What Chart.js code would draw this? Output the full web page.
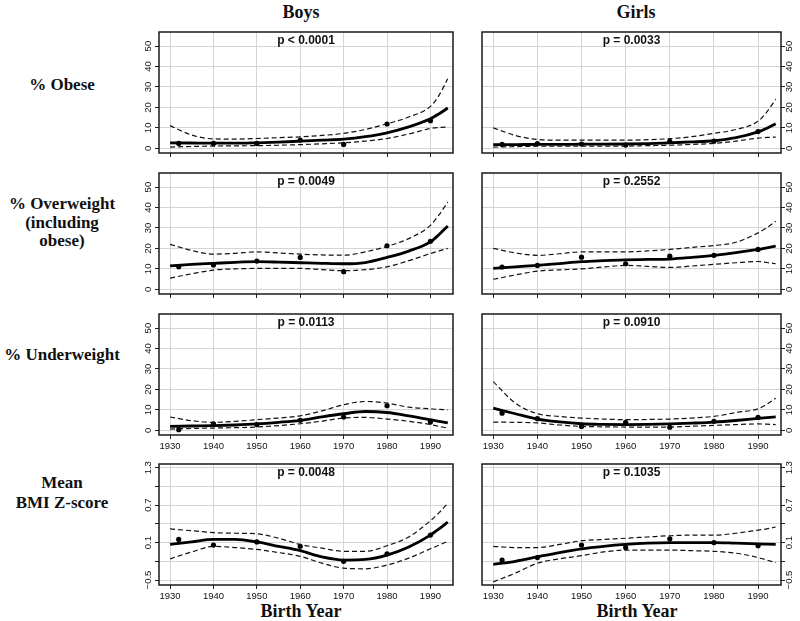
<!DOCTYPE html>
<html>
<head>
<meta charset="utf-8">
<script src="https://cdn.jsdelivr.net/npm/chart.js@4.4.1/dist/chart.umd.min.js"></script>
<style>
  body { margin: 0; background: #fff; }
  #wrap { position: relative; width: 800px; height: 621px; overflow: hidden; }
  canvas { position: absolute; }
  .lbl { position: absolute; transform: translate(-50%, -50%); white-space: nowrap;
         font-family: "Liberation Serif", "DejaVu Serif", serif; font-weight: bold; color: #111; text-align: center; }
</style>
</head>
<body>
<div id="wrap">
  <div class="lbl" style="left:301px;top:12px;font-size:18px">Boys</div>
  <div class="lbl" style="left:636px;top:12px;font-size:18px">Girls</div>
  <div class="lbl" style="left:62px;top:85px;font-size:17px">% Obese</div>
  <div class="lbl" style="left:62px;top:223px;font-size:17px;line-height:18.5px">% Overweight<br>(including<br>obese)</div>
  <div class="lbl" style="left:62px;top:355px;font-size:17px">% Underweight</div>
  <div class="lbl" style="left:62px;top:493px;font-size:17px;line-height:20px">Mean<br>BMI Z-score</div>
  <div class="lbl" style="left:301px;top:611px;font-size:18px">Birth Year</div>
  <div class="lbl" style="left:637px;top:611px;font-size:18px">Birth Year</div>
</div>
<script>
// observed years and smoothed-curve sample years
const pointYears = [1932, 1940, 1950, 1960, 1970, 1980, 1990]
const fitYears = [1930, 1935, 1940, 1945, 1950, 1955, 1960, 1965, 1970, 1975, 1980, 1985, 1990, 1992, 1994]
const yearTicks = [1930, 1940, 1950, 1960, 1970, 1980, 1990]
const pctTicks = [0, 10, 20, 30, 40, 50]
const zGrid = [-0.5, -0.2, 0.1, 0.4, 0.7, 1.0, 1.3]
const zLabels = [-0.5, 0.1, 0.7, 1.3]

// % obese
const boysObesePts = [2.4, 2.4, 2.4, 4.0, 1.9, 11.9, 13.5]
const boysObeseFit = [2.7, 2.6, 2.5, 2.5, 2.7, 3.0, 3.5, 4.0, 4.5, 5.7, 7.6, 10.5, 14.5, 16.9, 19.7]
const boysObeseUpper = [11.1, 6.5, 4.6, 4.5, 4.8, 5.2, 5.6, 6.3, 7.3, 9.2, 12, 15.3, 20.5, 26, 34]
const boysObeseLower = [0.6, 0.9, 1.1, 1.2, 1.3, 1.5, 1.8, 2.2, 2.7, 3.5, 4.8, 7.0, 9.7, 10.2, 10.5]
const girlsObesePts = [1.9, 2.3, 2.1, 1.6, 3.4, 3.5, 8.2]
const girlsObeseFit = [1.8, 1.8, 1.9, 1.9, 2.0, 2.0, 2.1, 2.3, 2.7, 3.1, 3.7, 5.2, 8.0, 9.8, 12]
const girlsObeseUpper = [10, 6.3, 4.3, 4.0, 4.0, 4.0, 4.0, 4.2, 4.7, 5.7, 7.3, 9.2, 13.2, 17.8, 24]
const girlsObeseLower = [0.6, 0.8, 1.0, 1.0, 1.1, 1.1, 1.1, 1.3, 1.5, 1.9, 2.4, 3.5, 5.0, 5.3, 5.5]

// % overweight
const boysOverPts = [11, 11.9, 13.8, 15.6, 8.6, 21.3, 23.5]
const boysOverFit = [11.5, 12.2, 12.7, 13.2, 13.5, 13.3, 13.0, 12.7, 12.5, 13.1, 15.6, 18.7, 23.2, 26.8, 31]
const boysOverUpper = [22, 19, 17.2, 17.6, 18.3, 17.8, 17.2, 16.8, 16.7, 18.3, 21, 24.8, 31.3, 36.5, 42.7]
const boysOverLower = [5.5, 7.6, 9.4, 10.0, 10.2, 10.2, 10.2, 9.6, 9.1, 9.6, 11, 14, 17.5, 18.8, 20]
const girlsOverPts = [10.9, 11.7, 15.7, 12.5, 16.2, 16.6, 19.5]
const girlsOverFit = [10.2, 11.0, 11.7, 12.6, 13.5, 14.0, 14.4, 14.6, 14.8, 15.6, 16.6, 17.9, 19.5, 20.3, 21.1]
const girlsOverUpper = [20, 17.8, 16.6, 17.4, 18.3, 18.3, 18.3, 18.8, 19.5, 20.5, 21.4, 23, 27.6, 30.2, 33.3]
const girlsOverLower = [4.9, 7.0, 8.9, 9.5, 10.0, 10.9, 11.7, 11.2, 10.7, 11.4, 12.2, 13.0, 13.6, 13.1, 12.5]

// % underweight
const boysUnderPts = [0.3, 3.1, 2.8, 4.9, 6.5, 12, 4]
const boysUnderFit = [1.9, 2.1, 2.3, 2.6, 3.1, 3.9, 4.9, 6.6, 8.1, 9.2, 8.7, 7.1, 5.2, 4.4, 3.6]
const boysUnderUpper = [6.5, 4.7, 3.9, 4.4, 5.2, 6.0, 7.1, 9.5, 12.5, 14.1, 13.3, 11.3, 10.5, 10.2, 10]
const boysUnderLower = [0.6, 0.9, 1.1, 1.3, 1.6, 2.3, 3.2, 4.5, 6.0, 6.3, 5.5, 4.4, 2.8, 1.9, 1.1]
const girlsUnderPts = [8.4, 5.7, 1.9, 3.9, 1.5, 4.4, 6.3]
const girlsUnderFit = [10.8, 8.1, 5.5, 4.1, 3.2, 2.9, 2.8, 2.9, 3.1, 3.5, 4.0, 4.8, 5.8, 6.2, 6.6]
const girlsUnderUpper = [23.8, 13.3, 8.1, 6.8, 6.0, 5.5, 5.2, 5.3, 5.5, 6.0, 6.8, 8.7, 10.5, 12.8, 15.7]
const girlsUnderLower = [4.0, 3.9, 3.6, 2.6, 1.9, 1.7, 1.6, 1.6, 1.6, 2.0, 2.4, 2.8, 3.1, 3.0, 2.8]

// mean BMI z-score
const boysZPts = [0.15, 0.06, 0.11, 0.04, -0.2, -0.08, 0.22]
const boysZFit = [0.07, 0.11, 0.15, 0.15, 0.11, 0.04, -0.03, -0.13, -0.18, -0.17, -0.10, 0.03, 0.22, 0.32, 0.43]
const boysZUpper = [0.32, 0.29, 0.26, 0.25, 0.24, 0.17, 0.07, 0.01, -0.04, -0.04, 0.05, 0.19, 0.45, 0.58, 0.73]
const boysZLower = [-0.16, -0.05, 0.04, 0.02, -0.01, -0.06, -0.12, -0.23, -0.31, -0.32, -0.26, -0.15, 0.0, 0.06, 0.12]
const girlsZPts = [-0.18, -0.14, 0.06, 0.02, 0.16, 0.1, 0.05]
const girlsZFit = [-0.25, -0.2, -0.13, -0.06, 0.0, 0.04, 0.07, 0.09, 0.1, 0.1, 0.1, 0.09, 0.08, 0.075, 0.07]
const girlsZUpper = [0.04, 0.02, 0.02, 0.07, 0.13, 0.15, 0.17, 0.19, 0.21, 0.22, 0.22, 0.25, 0.3, 0.32, 0.35]
const girlsZLower = [-0.53, -0.39, -0.23, -0.16, -0.11, -0.05, -0.02, -0.02, -0.02, -0.03, -0.04, -0.07, -0.14, -0.18, -0.22]

const pValues = ['p < 0.0001', 'p = 0.0033', 'p = 0.0049', 'p = 0.2552',
                 'p = 0.0113', 'p = 0.0910', 'p = 0.0048', 'p = 0.1035']

const rowTops = [31, 172, 313, 463]
const boxH = 122
const cols = [{ left: 159, width: 294, side: 'left' }, { left: 482, width: 299, side: 'right' }]

const panels = [
  [boysObesePts, boysObeseFit, boysObeseUpper, boysObeseLower],
  [girlsObesePts, girlsObeseFit, girlsObeseUpper, girlsObeseLower],
  [boysOverPts, boysOverFit, boysOverUpper, boysOverLower],
  [girlsOverPts, girlsOverFit, girlsOverUpper, girlsOverLower],
  [boysUnderPts, boysUnderFit, boysUnderUpper, boysUnderLower],
  [girlsUnderPts, girlsUnderFit, girlsUnderUpper, girlsUnderLower],
  [boysZPts, boysZFit, boysZUpper, boysZLower],
  [girlsZPts, girlsZFit, girlsZUpper, girlsZLower],
]

const SANS = '"Liberation Sans", Arial, Helvetica, sans-serif'
const PAD = 30, PADB = 22, PADT = 3, PADS = 4

const xy = (xs, ys) => xs.map((x, i) => ({ x, y: ys[i] }))

const panelPlugin = {
  id: 'panelDecor',
  afterDraw(chart, args, opts) {
    const { ctx, chartArea: a, scales } = chart
    ctx.save()
    // box
    ctx.strokeStyle = '#1a1a1a'
    ctx.lineWidth = 1.5
    ctx.strokeRect(a.left, a.top, a.right - a.left, a.bottom - a.top)
    // p value
    ctx.fillStyle = '#111'
    ctx.font = 'bold 12px ' + SANS
    ctx.textAlign = 'center'
    ctx.textBaseline = 'middle'
    ctx.fillText(opts.p, (a.left + a.right) / 2, a.top + 9)
    // y labels, rotated like R's default
    ctx.font = '9.5px ' + SANS
    const lx = opts.side === 'left' ? a.left - 11 : a.right + 8
    opts.yLabels.forEach(v => {
      const py = scales.y.getPixelForValue(v)
      ctx.save()
      ctx.translate(lx, py)
      ctx.rotate(-Math.PI / 2)
      ctx.fillText(opts.z ? String(v).replace('-', '\u2212') : String(v), 0, 0)
      ctx.restore()
    })
    if (opts.showX) {
      yearTicks.forEach(v => {
        ctx.fillText(String(v), scales.x.getPixelForValue(v), a.bottom + 11)
      })
    }
    ctx.restore()
  }
}

const wrap = document.getElementById('wrap')

panels.forEach((p, idx) => {
  const row = Math.floor(idx / 2)
  const col = cols[idx % 2]
  const isZ = row === 3
  const [pts, fit, upper, lower] = p

  const canvas = document.createElement('canvas')
  const w = col.width + PAD + PADS
  const h = boxH + PADT + PADB
  canvas.width = w
  canvas.height = h
  canvas.style.width = w + 'px'
  canvas.style.height = h + 'px'
  canvas.style.left = (col.side === 'left' ? col.left - PAD : col.left - PADS) + 'px'
  canvas.style.top = (rowTops[row] - PADT) + 'px'
  wrap.appendChild(canvas)

  const dashed = {
    borderColor: '#111', borderWidth: 1.2, borderDash: [5, 3],
    pointRadius: 0, fill: false, cubicInterpolationMode: 'monotone'
  }

  new Chart(canvas, {
    type: 'line',
    data: {
      datasets: [
        { ...dashed, data: xy(fitYears, upper) },
        { ...dashed, data: xy(fitYears, lower) },
        { data: xy(fitYears, fit), borderColor: '#000', borderWidth: 2.8, pointRadius: 0,
          fill: false, cubicInterpolationMode: 'monotone' },
        { data: xy(pointYears, pts), showLine: false, pointRadius: 2.6,
          pointBackgroundColor: '#000', pointBorderWidth: 0 },
      ]
    },
    options: {
      responsive: false,
      animation: false,
      devicePixelRatio: 1,
      clip: false,
      layout: { padding: { top: PADT, left: col.side === 'left' ? 0 : PADS, right: col.side === 'left' ? PADS : 0, bottom: 0 } },
      plugins: {
        legend: { display: false },
        tooltip: { enabled: false },
        panelDecor: { p: pValues[idx], side: col.side, yLabels: isZ ? zLabels : pctTicks, z: isZ, showX: row >= 2 }
      },
      scales: {
        x: {
          type: 'linear', min: 1927.45, max: 1995.2,
          afterBuildTicks: s => { s.ticks = yearTicks.map(v => ({ value: v })) },
          afterFit: s => { s.height = PADB },
          ticks: { display: false },
          border: { display: false },
          grid: { color: '#d4d4d4', lineWidth: 1, drawTicks: true, tickLength: 4, tickColor: '#222', tickWidth: 1 }
        },
        y: {
          position: col.side,
          min: isZ ? -0.58 : -2.3, max: isZ ? 1.36 : 56.9,
          afterBuildTicks: s => { s.ticks = (isZ ? zGrid : pctTicks).map(v => ({ value: v })) },
          afterFit: s => { s.width = PAD },
          ticks: { display: false },
          border: { display: false },
          grid: { color: '#d4d4d4', lineWidth: 1, drawTicks: true, tickLength: 4, tickColor: '#222', tickWidth: 1 }
        }
      }
    },
    plugins: [panelPlugin]
  })
})
</script>
</body>
</html>
